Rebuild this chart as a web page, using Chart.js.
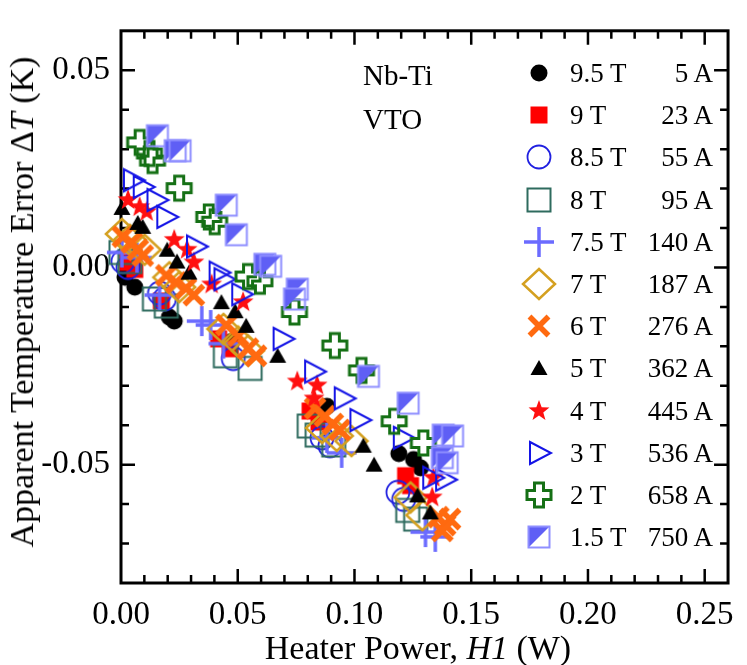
<!DOCTYPE html>
<html>
<head>
<meta charset="utf-8">
<script src="https://cdn.jsdelivr.net/npm/chart.js@4.4.1/dist/chart.umd.min.js"></script>
<style>
  body { margin: 0; background: #fff; }
  #wrap { position: relative; width: 747px; height: 665px; font-family: "Liberation Serif", "Times New Roman", serif; color: #000; }
  #c { position: absolute; left: 0; top: 0; }
  .lbl { position: absolute; white-space: nowrap; line-height: 1; }
  .row { position: absolute; left: 0; width: 747px; height: 36px; line-height: 36px; font-size: 27px; }
  .row canvas { position: absolute; }
  .row .f { position: absolute; left: 570px; }
  .row .a { position: absolute; right: 34px; }
</style>
</head>
<body>
<div id="wrap">
  <canvas id="c" width="747" height="665"></canvas>
  <div class="lbl" style="left:363px;top:61px;font-size:29px;">Nb-Ti</div>
  <div class="lbl" style="left:363px;top:105px;font-size:29px;">VTO</div>
  <div class="lbl" id="xt" style="left:418px;top:631px;font-size:34px;transform:translateX(-50%);">Heater Power, <i>H1</i> (W)</div>
  <div class="lbl" id="yt" style="left:22px;top:302px;font-size:34px;transform:translate(-50%,-50%) rotate(-90deg);">Apparent Temperature Error Δ<i>T</i> (K)</div>
  <div id="legend"></div>
</div>
<script>
// field / current labels of each run
const fields = ["9.5 T", "9 T", "8.5 T", "8 T", "7.5 T", "7 T", "6 T", "5 T", "4 T", "3 T", "2 T", "1.5 T"];
const currents = ["5 A", "23 A", "55 A", "95 A", "140 A", "187 A", "276 A", "362 A", "445 A", "536 A", "658 A", "750 A"];

// [heater power W, apparent error K]
const s95 = [[0.0017,-0.0025],[0.0059,-0.005],[0.0207,-0.0126],[0.0228,-0.0136],[0.0473,-0.0188],[0.0882,-0.0352],[0.119,-0.0472],[0.1253,-0.0487],[0.1283,-0.0508]];
const s9 = [[0.003,0.0013],[0.0059,-0.0005],[0.0173,-0.0085],[0.0418,-0.0181],[0.0468,-0.0206],[0.081,-0.0364],[0.0848,-0.0392],[0.1219,-0.0528],[0.124,-0.0553]];
const s85 = [[0.0008,0.0015],[0.003,0.0],[0.0165,-0.0065],[0.0186,-0.008],[0.0481,-0.0231],[0.0861,-0.0432],[0.0895,-0.0452],[0.1186,-0.057],[0.1211,-0.0588]];
const s8 = [[0.0,0.0038],[0.0038,0.0015],[0.0143,-0.008],[0.0194,-0.0098],[0.0447,-0.0224],[0.0553,-0.0256],[0.0806,-0.0402],[0.084,-0.0425],[0.0911,-0.045],[0.1228,-0.0616],[0.1262,-0.0638]];
const s75 = [[0.0004,0.0038],[0.0068,0.0025],[0.0165,-0.007],[0.0346,-0.0136],[0.0384,-0.0146],[0.0439,-0.0193],[0.0882,-0.0432],[0.0945,-0.047],[0.1304,-0.0671],[0.1346,-0.0683]];
const s7 = [[0.0004,0.0085],[0.0038,0.007],[0.0101,0.0045],[0.0207,-0.0025],[0.0249,-0.005],[0.0439,-0.0156],[0.0502,-0.0188],[0.0544,-0.0211],[0.0861,-0.0407],[0.0924,-0.0427],[0.0987,-0.044],[0.124,-0.0583],[0.1291,-0.0628]];
const s6 = [[0.0008,0.0078],[0.0046,0.0063],[0.0072,0.0045],[0.0093,0.003],[0.0194,-0.002],[0.0236,-0.0038],[0.0278,-0.0053],[0.0312,-0.007],[0.0451,-0.0146],[0.0502,-0.0173],[0.0544,-0.0206],[0.0578,-0.0224],[0.0831,-0.0357],[0.0873,-0.0377],[0.0907,-0.0397],[0.0937,-0.0412],[0.1359,-0.0633],[0.1388,-0.0653],[0.1409,-0.0638],[0.1376,-0.0668]];
const s5 = [[0.0004,0.0151],[0.0072,0.0113],[0.0093,0.0103],[0.0198,0.0045],[0.024,0.0015],[0.0291,-0.0013],[0.043,-0.0088],[0.0489,-0.0111],[0.0536,-0.0148],[0.0671,-0.0224],[0.1038,-0.0452],[0.1084,-0.05],[0.127,-0.0578],[0.1325,-0.0621]];
const s4 = [[0.003,0.0171],[0.008,0.0153],[0.011,0.0141],[0.0228,0.007],[0.0283,0.0045],[0.0312,0.0013],[0.0388,-0.0043],[0.0523,-0.0088],[0.0755,-0.0289],[0.084,-0.0299],[0.0827,-0.0332],[0.1338,-0.0533],[0.1333,-0.0583]];
const s3 = [[0.0051,0.0221],[0.0093,0.0204],[0.0152,0.0171],[0.0194,0.0128],[0.0321,0.0053],[0.0418,-0.0013],[0.0439,-0.003],[0.0515,-0.0068],[0.0692,-0.0181],[0.0827,-0.0264],[0.0954,-0.0332],[0.1021,-0.0387],[0.1207,-0.0432],[0.1333,-0.0533],[0.1388,-0.0538]];
const s2 = [[0.008,0.0317],[0.0122,0.0289],[0.0135,0.0271],[0.0249,0.0201],[0.0376,0.0128],[0.0401,0.0116],[0.0544,-0.0023],[0.0595,-0.0035],[0.0743,-0.0113],[0.0916,-0.0198],[0.103,-0.0261],[0.117,-0.039],[0.1295,-0.0445]];
const s15 = [[0.0156,0.0334],[0.0232,0.0296],[0.0253,0.0296],[0.0451,0.0158],[0.0494,0.0083],[0.0616,0.0008],[0.0641,0.0003],[0.0755,-0.0055],[0.0743,-0.008],[0.106,-0.0276],[0.123,-0.0344],[0.138,-0.0425],[0.142,-0.0427],[0.1376,-0.0482],[0.1397,-0.0495]];

const series = [s95, s9, s85, s8, s75, s7, s6, s5, s4, s3, s2, s15];
const shapes = ["dot", "square", "ring", "box", "plus", "diamond", "x", "tri", "star", "rtri", "gcross", "half"];
const colors = ["#000000", "#ff0000", "#2020e0", "#2e6b5e", "#6b6bff", "#d4a020", "#ff6a10", "#000000", "#ff1010", "#1414e6", "#157015", "#5f5ff5"];

const xTicks = [0, 0.05, 0.10, 0.15, 0.20, 0.25];
const yTicks = [-0.05, 0, 0.05];

function makeMarker(kind, color) {
  const S = 40;
  const c = document.createElement("canvas");
  c.width = S; c.height = S;
  const g = c.getContext("2d");
  g.translate(S / 2, S / 2);
  g.strokeStyle = color;
  g.fillStyle = color;
  g.beginPath();
  switch (kind) {
    case "dot":
      g.arc(0, 0, 8.5, 0, 2 * Math.PI); g.fill(); break;
    case "square":
      g.fillRect(-8.5, -8.5, 17, 17); break;
    case "ring":
      g.lineWidth = 1.8; g.arc(0, 0, 11.5, 0, 2 * Math.PI); g.stroke(); break;
    case "box":
      g.lineWidth = 2; g.strokeRect(-11.5, -11.5, 23, 23); break;
    case "plus":
      g.lineWidth = 3.5;
      g.moveTo(-15, 0); g.lineTo(15, 0); g.moveTo(0, -15); g.lineTo(0, 15); g.stroke(); break;
    case "diamond":
      g.lineWidth = 2.5;
      g.moveTo(0, -15); g.lineTo(16, 0); g.lineTo(0, 15); g.lineTo(-16, 0); g.closePath(); g.stroke(); break;
    case "x":
      g.lineWidth = 5.5;
      g.moveTo(-9.5, -9.5); g.lineTo(9.5, 9.5); g.moveTo(9.5, -9.5); g.lineTo(-9.5, 9.5); g.stroke(); break;
    case "tri":
      g.moveTo(0, -8); g.lineTo(8.5, 7); g.lineTo(-8.5, 7); g.closePath(); g.fill(); break;
    case "star":
      for (let i = 0; i < 10; i++) {
        const r = i % 2 ? 4.5 : 11;
        const a = -Math.PI / 2 + i * Math.PI / 5;
        g.lineTo(r * Math.cos(a), r * Math.sin(a));
      }
      g.closePath(); g.fill(); break;
    case "rtri":
      g.lineWidth = 2;
      g.moveTo(-9, -11); g.lineTo(12, 0); g.lineTo(-9, 11); g.closePath(); g.stroke(); break;
    case "gcross": {
      const a = 4.5, L = 12;
      g.lineWidth = 3;
      g.moveTo(-a, -L); g.lineTo(a, -L); g.lineTo(a, -a); g.lineTo(L, -a); g.lineTo(L, a);
      g.lineTo(a, a); g.lineTo(a, L); g.lineTo(-a, L); g.lineTo(-a, a); g.lineTo(-L, a);
      g.lineTo(-L, -a); g.lineTo(-a, -a); g.closePath(); g.stroke(); break;
    }
    case "half":
      g.moveTo(-11, -11); g.lineTo(11, -11); g.lineTo(-11, 11); g.closePath(); g.fill();
      g.strokeStyle = "#8f8fff"; g.lineWidth = 2; g.strokeRect(-10.5, -10.5, 21, 21); break;
  }
  return c;
}

const datasets = series.map((pts, i) => ({
  label: fields[i],
  data: pts.map(p => ({ x: p[0], y: p[1] })),
  pointStyle: makeMarker(shapes[i], colors[i]),
  pointRadius: 10,
  showLine: false,
  clip: false,
  order: series.length - i
}));

// frame with inward ticks on all four sides
const framePlugin = {
  id: "frame",
  beforeDatasetsDraw(chart) {
    const { ctx, chartArea: a, scales: { x, y } } = chart;
    ctx.save();
    ctx.strokeStyle = "#000";
    ctx.lineWidth = 2.5;
    for (let k = 1; k < 26; k++) {
      const px = x.getPixelForValue(k / 100);
      const len = k % 5 === 0 ? 14 : 8;
      ctx.beginPath();
      ctx.moveTo(px, a.bottom); ctx.lineTo(px, a.bottom - len);
      ctx.moveTo(px, a.top); ctx.lineTo(px, a.top + len);
      ctx.stroke();
    }
    for (let k = -7; k < 6; k++) {
      const py = y.getPixelForValue(k / 100);
      const len = k % 5 === 0 ? 14 : 8;
      ctx.beginPath();
      ctx.moveTo(a.left, py); ctx.lineTo(a.left + len, py);
      ctx.moveTo(a.right, py); ctx.lineTo(a.right - len, py);
      ctx.stroke();
    }
    ctx.lineWidth = 3;
    ctx.strokeRect(a.left, a.top, a.right - a.left, a.bottom - a.top);
    ctx.restore();
  }
};

const tickFont = { family: "'Liberation Serif', 'Times New Roman', serif", size: 33 };

new Chart(document.getElementById("c"), {
  type: "scatter",
  data: { datasets },
  options: {
    responsive: false,
    animation: false,
    events: [],
    layout: { padding: { top: 28, right: 9, left: 0, bottom: 0 } },
    plugins: { legend: { display: false }, tooltip: { enabled: false } },
    scales: {
      x: {
        min: 0, max: 0.26,
        afterBuildTicks: s => { s.ticks = xTicks.map(v => ({ value: v })); },
        afterFit: s => { s.height = 82; },
        grid: { display: false, drawTicks: false },
        border: { display: false },
        ticks: { font: tickFont, color: "#000", padding: 13, maxRotation: 0, autoSkip: false,
                 callback: v => v.toFixed(2) }
      },
      y: {
        min: -0.08, max: 0.06,
        afterBuildTicks: s => { s.ticks = yTicks.map(v => ({ value: v })); },
        afterFit: s => { s.width = 121; },
        grid: { display: false, drawTicks: false },
        border: { display: false },
        ticks: { font: tickFont, color: "#000", padding: 11, autoSkip: false,
                 callback: v => v.toFixed(2) }
      }
    }
  },
  plugins: [framePlugin]
});

// legend: symbol, field, current
const legend = document.getElementById("legend");
fields.forEach((f, i) => {
  const row = document.createElement("div");
  row.className = "row";
  row.style.top = (73 + 42.2 * i - 18) + "px";
  const sym = makeMarker(shapes[i], colors[i]);
  sym.style.left = (539 - 20) + "px";
  sym.style.top = "-2px";
  row.appendChild(sym);
  const fs = document.createElement("span");
  fs.className = "f"; fs.textContent = f;
  const cs = document.createElement("span");
  cs.className = "a"; cs.textContent = currents[i];
  row.appendChild(fs); row.appendChild(cs);
  legend.appendChild(row);
});
</script>
</body>
</html>
